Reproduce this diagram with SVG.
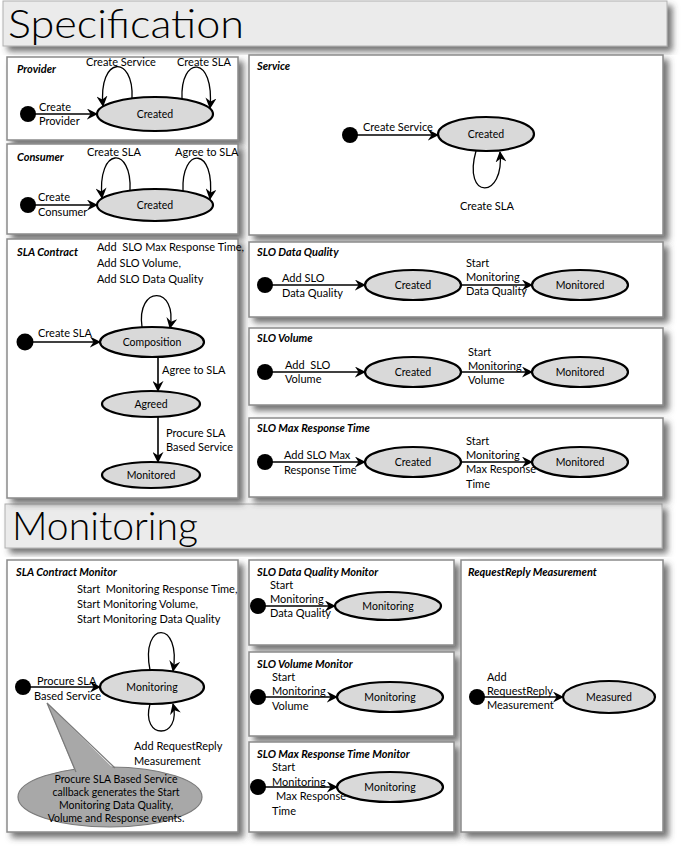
<svg xmlns="http://www.w3.org/2000/svg" width="685" height="851" viewBox="0 0 685 851">
<defs>
  <filter id="sh" x="-10%" y="-10%" width="125%" height="130%">
    <feDropShadow dx="5" dy="5" stdDeviation="3" flood-color="#444" flood-opacity="0.75"/>
  </filter>
  <marker id="arr" viewBox="0 0 12 12" refX="11" refY="6" markerWidth="11" markerHeight="11" markerUnits="userSpaceOnUse" orient="auto">
    <path d="M0,0 L12,6 L0,12 L4,6 z" fill="#000"/>
  </marker>
</defs>
<style>
  .bar { fill: #ebebeb; stroke: #b0b0b0; stroke-width: 1; filter: url(#sh); }
  .big { font-family: Lato, "Open Sans", sans-serif; font-size: 40px; font-weight: 300; fill: #000; }
  .panel { fill: #fff; stroke: #8a8a8a; stroke-width: 1.5; filter: url(#sh); }
  .ttl { font-family: Lato, "Open Sans", sans-serif; font-size: 11px; font-weight: bold; font-style: italic; fill: #000; }
  .lbl { font-family: Lato, "Open Sans", sans-serif; font-size: 11px; fill: #000; white-space: pre; }
  .st { fill: #d9d9d9; stroke: #000; stroke-width: 2.2; }
  .stt { font-family: Lato, "Open Sans", sans-serif; font-size: 10.5px; fill: #000; text-anchor: middle; }
  .init { fill: #000; }
  .edge { fill: none; stroke: #000; stroke-width: 1.6; marker-end: url(#arr); }
  .loop { fill: none; stroke: #000; stroke-width: 1.3; marker-end: url(#arr); }
  .call { fill: #a8a8a8; stroke: #7a7a7a; stroke-width: 1.2; }
  .ctxt { font-family: Lato, "Open Sans", sans-serif; font-size: 10.5px; fill: #000; text-anchor: middle; }
</style>

<!-- Section bars -->
<g id="spec-bar">
  <rect class="bar" x="3" y="1" width="664" height="45"/>
  <text class="big" x="8" y="38" textLength="236" lengthAdjust="spacingAndGlyphs">Specification</text>
</g>
<g id="mon-bar">
  <rect class="bar" x="5" y="504" width="657" height="44"/>
  <text class="big" x="12" y="540" textLength="186" lengthAdjust="spacingAndGlyphs">Monitoring</text>
</g>

<!-- Panels -->
<g id="panels">
  <rect class="panel" x="7" y="57" width="231" height="83"/>
  <rect class="panel" x="7" y="144" width="231" height="90"/>
  <rect class="panel" x="249" y="55" width="414" height="180"/>
  <rect class="panel" x="7" y="239" width="231" height="259"/>
  <rect class="panel" x="249" y="242" width="414" height="75"/>
  <rect class="panel" x="249" y="328" width="414" height="77"/>
  <rect class="panel" x="249" y="418" width="414" height="79"/>
  <rect class="panel" x="7" y="560" width="231" height="272"/>
  <rect class="panel" x="249" y="560" width="205" height="85"/>
  <rect class="panel" x="249" y="652" width="205" height="84"/>
  <rect class="panel" x="249" y="742" width="205" height="90"/>
  <rect class="panel" x="461" y="560" width="202" height="272"/>
</g>

<!-- Panel titles -->
<g id="titles">
  <text class="ttl" x="17" y="73">Provider</text>
  <text class="ttl" x="17" y="161">Consumer</text>
  <text class="ttl" x="257" y="70">Service</text>
  <text class="ttl" x="17" y="256">SLA Contract</text>
  <text class="ttl" x="257" y="256">SLO Data Quality</text>
  <text class="ttl" x="257" y="342">SLO Volume</text>
  <text class="ttl" x="257" y="432">SLO Max Response Time</text>
  <text class="ttl" x="16" y="576">SLA Contract Monitor</text>
  <text class="ttl" x="257" y="576">SLO Data Quality Monitor</text>
  <text class="ttl" x="257" y="668">SLO Volume Monitor</text>
  <text class="ttl" x="257" y="758">SLO Max Response Time Monitor</text>
  <text class="ttl" x="468" y="576">RequestReply Measurement</text>
</g>

<!-- Initial states -->
<g id="initials">
  <circle id="i-provider" class="init" cx="28" cy="114" r="8"/>
  <circle id="i-consumer" class="init" cx="28" cy="205" r="8"/>
  <circle id="i-service" class="init" cx="350" cy="135" r="8"/>
  <circle id="i-sla" class="init" cx="25" cy="342" r="8.5"/>
  <circle id="i-dq" class="init" cx="265" cy="285" r="8"/>
  <circle id="i-vol" class="init" cx="265" cy="372" r="8"/>
  <circle id="i-mrt" class="init" cx="265" cy="462" r="8"/>
  <circle id="i-slamon" class="init" cx="23" cy="687" r="8"/>
  <circle id="i-dqmon" class="init" cx="258" cy="606" r="8"/>
  <circle id="i-volmon" class="init" cx="258" cy="697" r="8"/>
  <circle id="i-mrtmon" class="init" cx="258" cy="787" r="8"/>
  <circle id="i-rr" class="init" cx="477" cy="697" r="8"/>
</g>

<!-- Connectors -->
<g id="connectors">
  <line class="edge" x1="35" y1="114" x2="97" y2="114"/>
  <path class="loop" d="M132,98 C134,55 98,55 103,106"/>
  <path class="loop" d="M182,99 C180,55 215,55 210,108"/>
  <line class="edge" x1="35" y1="205" x2="97" y2="205"/>
  <path class="loop" d="M130,190 C132,146 97,146 102,198"/>
  <path class="loop" d="M183,191 C181,146 216,146 210,199"/>
  <line class="edge" x1="357" y1="135" x2="438" y2="135"/>
  <path class="loop" d="M476,151 C462,200 505,200 500,152"/>
  <line class="edge" x1="33" y1="342" x2="100" y2="342"/>
  <path class="loop" d="M142,327 C136,285 178,285 170,328"/>
  <line class="edge" x1="158" y1="357" x2="158" y2="391"/>
  <line class="edge" x1="158" y1="417" x2="158" y2="462"/>
  <line class="edge" x1="272" y1="285" x2="365" y2="285"/>
  <line class="edge" x1="461" y1="285" x2="532" y2="285"/>
  <line class="edge" x1="272" y1="372" x2="365" y2="372"/>
  <line class="edge" x1="461" y1="372" x2="532" y2="372"/>
  <line class="edge" x1="272" y1="462" x2="365" y2="462"/>
  <line class="edge" x1="461" y1="462" x2="532" y2="462"/>
  <line class="edge" x1="30" y1="687" x2="100" y2="687"/>
  <path class="loop" d="M150,670 C140,620 182,620 173,671"/>
  <path class="loop" d="M150,704 C140,740 182,740 173,704"/>
  <line class="edge" x1="265" y1="606" x2="335" y2="606"/>
  <line class="edge" x1="265" y1="697" x2="337" y2="697"/>
  <line class="edge" x1="265" y1="787" x2="337" y2="787"/>
  <line class="edge" x1="484" y1="697" x2="563" y2="697"/>
</g>

<!-- States -->
<g id="provider-created"><ellipse class="st" cx="155" cy="114" rx="58" ry="17"/><text class="stt" x="155" y="118">Created</text></g>
<g id="consumer-created"><ellipse class="st" cx="155" cy="205" rx="58" ry="16"/><text class="stt" x="155" y="209">Created</text></g>
<g id="service-created"><ellipse class="st" cx="486" cy="134" rx="48" ry="17"/><text class="stt" x="486" y="138">Created</text></g>
<g id="sla-composition"><ellipse class="st" cx="152" cy="342" rx="52" ry="15"/><text class="stt" x="152" y="346">Composition</text></g>
<g id="sla-agreed"><ellipse class="st" cx="151" cy="404" rx="49" ry="13"/><text class="stt" x="151" y="408">Agreed</text></g>
<g id="sla-monitored"><ellipse class="st" cx="151" cy="475" rx="49" ry="13"/><text class="stt" x="151" y="479">Monitored</text></g>
<g id="dq-created"><ellipse class="st" cx="413" cy="285" rx="48" ry="15"/><text class="stt" x="413" y="289">Created</text></g>
<g id="dq-monitored"><ellipse class="st" cx="580" cy="285" rx="48" ry="15"/><text class="stt" x="580" y="289">Monitored</text></g>
<g id="vol-created"><ellipse class="st" cx="413" cy="372" rx="48" ry="15"/><text class="stt" x="413" y="376">Created</text></g>
<g id="vol-monitored"><ellipse class="st" cx="580" cy="372" rx="48" ry="15"/><text class="stt" x="580" y="376">Monitored</text></g>
<g id="mrt-created"><ellipse class="st" cx="413" cy="462" rx="48" ry="15"/><text class="stt" x="413" y="466">Created</text></g>
<g id="mrt-monitored"><ellipse class="st" cx="580" cy="462" rx="48" ry="15"/><text class="stt" x="580" y="466">Monitored</text></g>
<g id="slamon-monitoring"><ellipse class="st" cx="152" cy="687" rx="52" ry="17"/><text class="stt" x="152" y="691">Monitoring</text></g>
<g id="dqmon-monitoring"><ellipse class="st" cx="388" cy="606" rx="53" ry="14"/><text class="stt" x="388" y="610">Monitoring</text></g>
<g id="volmon-monitoring"><ellipse class="st" cx="390" cy="697" rx="53" ry="15"/><text class="stt" x="390" y="701">Monitoring</text></g>
<g id="mrtmon-monitoring"><ellipse class="st" cx="390" cy="787" rx="53" ry="15"/><text class="stt" x="390" y="791">Monitoring</text></g>
<g id="rr-measured"><ellipse class="st" cx="609" cy="697" rx="46" ry="16"/><text class="stt" x="609" y="701">Measured</text></g>

<!-- Callout -->
<g id="callout">
  <ellipse class="call" cx="110" cy="797" rx="92" ry="30"/>
  <polygon points="47,703 76,774 116,771" fill="#a8a8a8"/>
  <polyline points="76,772 47,703 115,768" fill="none" stroke="#7a7a7a" stroke-width="1.2"/>
  <text class="ctxt" x="116" y="783">Procure SLA Based Service</text>
  <text class="ctxt" x="116" y="796">callback generates the Start</text>
  <text class="ctxt" x="116" y="809">Monitoring Data Quality,</text>
  <text class="ctxt" x="116" y="822">Volume and Response events.</text>
</g>

<!-- Transition labels -->
<g id="labels">
  <text class="lbl" x="39" y="111">Create</text>
  <text class="lbl" x="39" y="125">Provider</text>
  <text class="lbl" x="86" y="66">Create Service</text>
  <text class="lbl" x="177" y="66">Create SLA</text>

  <text class="lbl" x="38" y="201">Create</text>
  <text class="lbl" x="38" y="216">Consumer</text>
  <text class="lbl" x="87" y="156">Create SLA</text>
  <text class="lbl" x="175" y="156">Agree to SLA</text>

  <text class="lbl" x="363" y="131">Create Service</text>
  <text class="lbl" x="460" y="210">Create SLA</text>

  <text class="lbl" x="97" y="251">Add  SLO Max Response Time,</text>
  <text class="lbl" x="97" y="267">Add SLO Volume,</text>
  <text class="lbl" x="97" y="283">Add SLO Data Quality</text>
  <text class="lbl" x="38" y="337">Create SLA</text>
  <text class="lbl" x="162" y="374">Agree to SLA</text>
  <text class="lbl" x="166" y="437">Procure SLA</text>
  <text class="lbl" x="166" y="451">Based Service</text>

  <text class="lbl" x="282" y="282">Add SLO</text>
  <text class="lbl" x="282" y="297">Data Quality</text>
  <text class="lbl" x="466" y="267">Start</text>
  <text class="lbl" x="466" y="281">Monitoring</text>
  <text class="lbl" x="466" y="295">Data Quality</text>

  <text class="lbl" x="285" y="369">Add  SLO</text>
  <text class="lbl" x="285" y="383">Volume</text>
  <text class="lbl" x="468" y="356">Start</text>
  <text class="lbl" x="468" y="370">Monitoring</text>
  <text class="lbl" x="468" y="384">Volume</text>

  <text class="lbl" x="284" y="459">Add SLO Max</text>
  <text class="lbl" x="284" y="474">Response Time</text>
  <text class="lbl" x="466" y="445">Start</text>
  <text class="lbl" x="466" y="459">Monitoring</text>
  <text class="lbl" x="466" y="473">Max Response</text>
  <text class="lbl" x="466" y="488">Time</text>

  <text class="lbl" x="77" y="593">Start  Monitoring Response Time,</text>
  <text class="lbl" x="77" y="608">Start Monitoring Volume,</text>
  <text class="lbl" x="77" y="623">Start Monitoring Data Quality</text>
  <text class="lbl" x="37" y="685">Procure SLA</text>
  <text class="lbl" x="34" y="700">Based Service</text>
  <text class="lbl" x="134" y="750">Add RequestReply</text>
  <text class="lbl" x="134" y="765">Measurement</text>

  <text class="lbl" x="270" y="589">Start</text>
  <text class="lbl" x="270" y="603">Monitoring</text>
  <text class="lbl" x="270" y="617">Data Quality</text>

  <text class="lbl" x="272" y="681">Start</text>
  <text class="lbl" x="272" y="695">Monitoring</text>
  <text class="lbl" x="272" y="710">Volume</text>

  <text class="lbl" x="272" y="771">Start</text>
  <text class="lbl" x="272" y="786">Monitoring</text>
  <text class="lbl" x="276" y="800">Max Response</text>
  <text class="lbl" x="272" y="815">Time</text>

  <text class="lbl" x="487" y="681">Add</text>
  <text class="lbl" x="487" y="695">RequestReply</text>
  <text class="lbl" x="487" y="709">Measurement</text>
</g>
</svg>
